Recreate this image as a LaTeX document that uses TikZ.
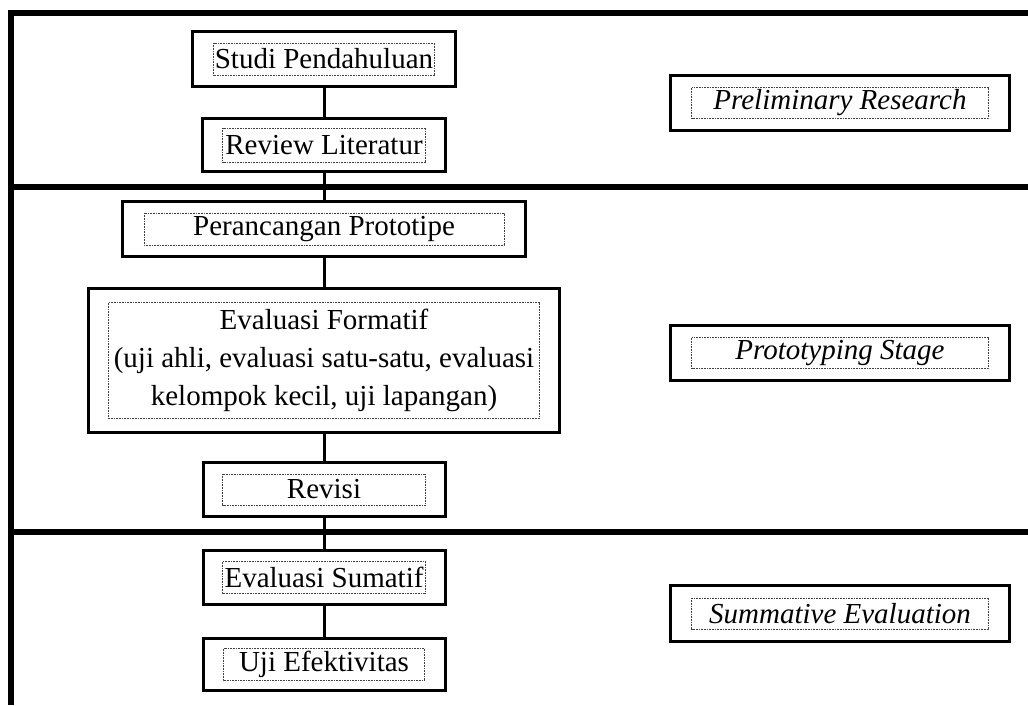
\documentclass[tikz,border=0pt]{standalone}
\usepackage{fontspec}
\setmainfont{Liberation Serif}
\newcommand\dotfr[3]{\draw[dots] ([shift={(-#2/2,-#3/2)}]#1.center) rectangle ([shift={(#2/2,#3/2)}]#1.center);}
\begin{document}
\begin{tikzpicture}[x=1pt,y=-1pt,
  frame/.style={line width=6pt},
  box/.style={draw, line width=3pt, inner sep=0pt, align=center, font=\fontsize{29}{38}\selectfont},
  stage/.style={box, font=\fontsize{29}{38}\selectfont\itshape, minimum width=339pt, minimum height=55pt},
  link/.style={line width=3pt},
  dots/.style={draw=black!75, line width=0.8pt, dash pattern=on 0.8pt off 0.8pt}]
\useasboundingbox (0,0) rectangle (1028,705);
% frame
\draw[frame] (11,705) -- (11,13) -- (1028,13);
\draw[frame] (11,187) -- (1028,187);
\draw[frame] (11,532) -- (1028,532);
% left column
\node[box, minimum width=263pt, minimum height=55pt] (studi) at (324,59) {Studi Pendahuluan};
\node[box, minimum width=243pt, minimum height=53pt] (review) at (324,145) {Review Literatur};
\node[box, minimum width=403pt, minimum height=55pt] (peranc) at (324,229) {Perancangan Prototipe};
\node[box, minimum width=471pt, minimum height=144pt] (formatif) at (324,360.5) {Evaluasi Formatif\\(uji ahli, evaluasi satu-satu, evaluasi\\kelompok kecil, uji lapangan)};
\node[box, minimum width=242pt, minimum height=54pt] (revisi) at (324,489.5) {Revisi};
\node[box, minimum width=242pt, minimum height=54pt] (sumatif) at (324,577.5) {Evaluasi Sumatif};
\node[box, minimum width=242pt, minimum height=52pt] (uji) at (324,664.5) {Uji Efektivitas};
% right column
\node[stage] (prelim) at (840,103) {Preliminary Research};
\node[stage] (proto) at (840,353) {Prototyping Stage};
\node[stage, minimum height=56pt] (summ) at (840,613.5) {Summative Evaluation};
% dotted text frames
\dotfr{studi}{221}{32}
\dotfr{review}{203}{34}
\dotfr{peranc}{360}{32}
\dotfr{formatif}{431}{116}
\dotfr{revisi}{203}{31}
\dotfr{sumatif}{203}{32}
\dotfr{uji}{201}{32}
\dotfr{prelim}{297}{31}
\dotfr{proto}{297}{31}
\dotfr{summ}{297}{31}
% connectors
\draw[link] (studi) -- (review);
\draw[link] (review) -- (peranc);
\draw[link] (peranc) -- (formatif);
\draw[link] (formatif) -- (revisi);
\draw[link] (revisi) -- (sumatif);
\draw[link] (sumatif) -- (uji);
\end{tikzpicture}
\end{document}
